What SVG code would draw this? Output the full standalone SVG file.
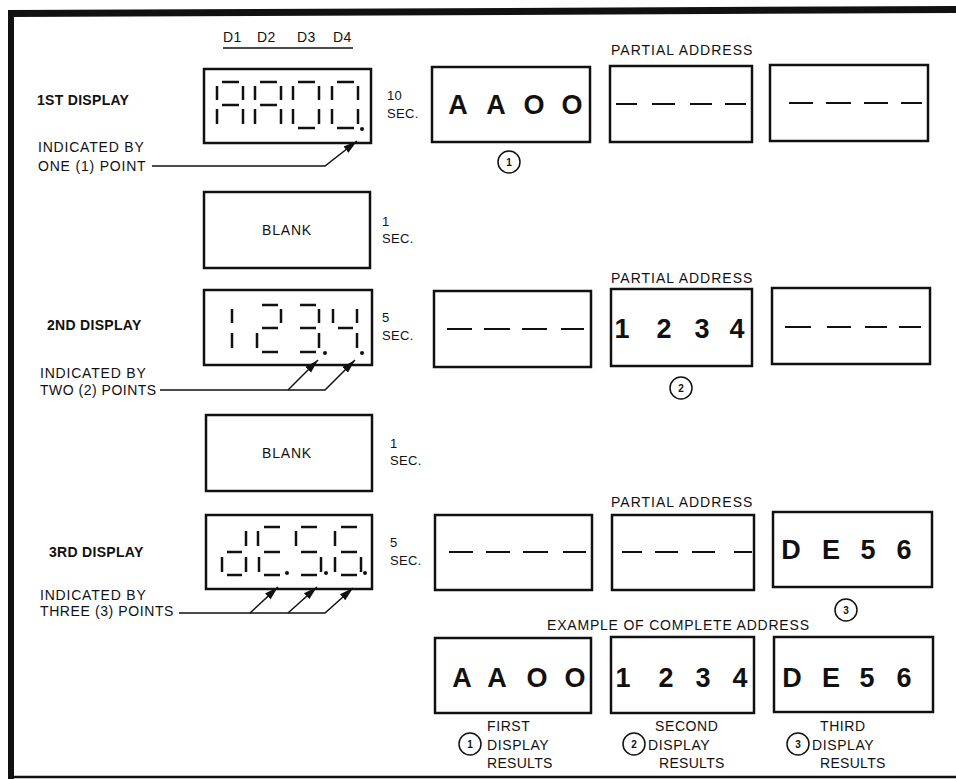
<svg xmlns="http://www.w3.org/2000/svg" width="956" height="779" viewBox="0 0 956 779">
<defs>
<style>
text{font-family:"Liberation Sans",Arial,sans-serif;fill:#111}
.lbl{font-size:14px;letter-spacing:0.8px}
.bl{font-size:14px;font-weight:bold;letter-spacing:0.3px}
.sec{font-size:13px;letter-spacing:0.3px}
.big{font-size:27px;font-weight:bold;text-anchor:middle}
.cn{font-size:10px;font-weight:bold;text-anchor:middle}
.box{fill:#fff;stroke:#111;stroke-width:2.5}
.seg{fill:none;stroke:#111;stroke-width:2.5}
.dash{fill:none;stroke:#111;stroke-width:2}
.circ{fill:none;stroke:#111;stroke-width:1.5}
.con{fill:none;stroke:#111;stroke-width:1.5}
</style>
<marker id="ah" markerWidth="16" markerHeight="10" refX="14" refY="5" orient="auto" markerUnits="userSpaceOnUse">
<path d="M0,1 L14,5 L0,9 z" fill="#111"/>
</marker>
</defs>
<rect width="956" height="779" fill="#fff"/>
<g id="frame">
<polygon points="8,10 956,6 956,13 8,17" fill="#111"/>
<rect x="8" y="10" width="6" height="769" fill="#111"/>
<line x1="14" y1="777" x2="956" y2="777" stroke="#111" stroke-width="2.5"/>
</g>
<g id="digit-labels">
<text class="lbl" x="223" y="42" style="letter-spacing:0.3px">D1</text>
<text class="lbl" x="257" y="42" style="letter-spacing:0.3px">D2</text>
<text class="lbl" x="297" y="42" style="letter-spacing:0.3px">D3</text>
<text class="lbl" x="333" y="42" style="letter-spacing:0.3px">D4</text>
<line x1="223" y1="48" x2="353" y2="48" stroke="#111" stroke-width="1.5"/>
</g>
<g id="display1">
<text class="bl" x="37" y="105">1ST DISPLAY</text>
<rect class="box" x="204" y="69" width="167" height="74"/>
<path class="seg" d="M222 82H239M243 86V100M243 109V124M217 109V124M217 86V100M222 105H239
M260 82H277M281 86V100M281 109V124M255 109V124M255 86V100M260 105H277
M298 82H315M319 86V100M319 109V124M298 128H315M293 109V124M293 86V100
M337 82H354M358 86V100M358 109V124M337 128H354M332 109V124M332 86V100"/>
<circle cx="362" cy="129" r="2" fill="#111"/>
<text class="sec" x="387" y="100">10</text>
<text class="sec" x="387" y="118">SEC.</text>
<text class="lbl" x="38" y="152">INDICATED BY</text>
<text class="lbl" x="38" y="171">ONE (1) POINT</text>
</g>
<g id="blank1">
<rect class="box" x="204" y="192" width="166" height="76"/>
<text class="lbl" x="287" y="235" text-anchor="middle">BLANK</text>
<text class="sec" x="382" y="226">1</text>
<text class="sec" x="382" y="243">SEC.</text>
</g>
<g id="display2">
<text class="bl" x="47" y="330">2ND DISPLAY</text>
<rect class="box" x="204" y="290" width="168" height="75"/>
<path class="seg" d="M232 309V323M232 333V348
M262 305H278M281 309V323M262 328H278M257 333V348M262 352H278
M300 305H316M319 309V323M300 328H316M319 333V348M300 352H316
M333 309V323M357 309V323M338 328H353M357 333V348"/>
<circle cx="325" cy="353" r="2" fill="#111"/>
<circle cx="362" cy="353" r="2" fill="#111"/>
<text class="sec" x="382" y="322">5</text>
<text class="sec" x="382" y="340">SEC.</text>
<text class="lbl" x="40" y="378">INDICATED BY</text>
<text class="lbl" x="40" y="395" style="letter-spacing:0.5px">TWO (2) POINTS</text>
</g>
<g id="blank2">
<rect class="box" x="206" y="415" width="166" height="76"/>
<text class="lbl" x="287" y="458" text-anchor="middle">BLANK</text>
<text class="sec" x="390" y="448">1</text>
<text class="sec" x="390" y="465">SEC.</text>
</g>
<g id="display3">
<text class="bl" x="49" y="557">3RD DISPLAY</text>
<rect class="box" x="206" y="515" width="166" height="74"/>
<path class="seg" d="M246 531V546M227 552H242M246 557V572M222 557V572M227 575H242
M264 527H280M258 531V546M264 552H280M259 557V572M264 575H280
M301 527H317M296 531V546M301 552H317M321 557V572M301 575H317
M341 527H357M335 531V546M341 552H357M335 557V572M361 557V572M341 575H357"/>
<circle cx="287" cy="573" r="2" fill="#111"/>
<circle cx="326" cy="573" r="2" fill="#111"/>
<circle cx="365" cy="573" r="2" fill="#111"/>
<text class="sec" x="390" y="547">5</text>
<text class="sec" x="390" y="565">SEC.</text>
<text class="lbl" x="40" y="600">INDICATED BY</text>
<text class="lbl" x="40" y="616" style="letter-spacing:0.6px">THREE (3) POINTS</text>
</g>
<g id="connectors">
<polyline class="con" points="152,166 325,166 357,141" marker-end="url(#ah)"/>
<polyline class="con" points="160,390 325,390 355,360" marker-end="url(#ah)"/>
<line class="con" x1="288" y1="390" x2="318" y2="360" marker-end="url(#ah)"/>
<polyline class="con" points="179,613 325,613 353,588" marker-end="url(#ah)"/>
<line class="con" x1="250" y1="613" x2="278" y2="587" marker-end="url(#ah)"/>
<line class="con" x1="288" y1="613" x2="317" y2="587" marker-end="url(#ah)"/>
</g>
<g id="row1">
<text class="lbl" x="611" y="55" style="letter-spacing:1px">PARTIAL ADDRESS</text>
<rect class="box" x="432" y="67" width="158" height="75"/>
<text class="big" x="458" y="114">A</text>
<text class="big" x="496" y="114">A</text>
<text class="big" x="534" y="114">O</text>
<text class="big" x="572" y="114">O</text>
<circle class="circ" cx="509" cy="162" r="11"/>
<text class="cn" x="509" y="166">1</text>
<rect class="box" x="610" y="66" width="142" height="76"/>
<path class="dash" d="M616 104H637M652 104H675M690 104H712M725 104H746"/>
<rect class="box" x="770" y="65" width="158" height="76"/>
<path class="dash" d="M789 103H813M826 103H851M864 103H888M901 103H922"/>
</g>
<g id="row2">
<text class="lbl" x="611" y="283" style="letter-spacing:1px">PARTIAL ADDRESS</text>
<rect class="box" x="434" y="291" width="157" height="76"/>
<path class="dash" d="M447 329H472M484 329H510M522 329H547M561 329H584"/>
<rect class="box" x="611" y="289" width="141" height="77"/>
<text class="big" x="622" y="338">1</text>
<text class="big" x="664" y="338">2</text>
<text class="big" x="702" y="338">3</text>
<text class="big" x="737" y="338">4</text>
<circle class="circ" cx="681" cy="388" r="11"/>
<text class="cn" x="681" y="392">2</text>
<rect class="box" x="772" y="288" width="158" height="76"/>
<path class="dash" d="M785 327H811M827 327H851M865 327H887M899 327H921"/>
</g>
<g id="row3">
<text class="lbl" x="611" y="507" style="letter-spacing:1px">PARTIAL ADDRESS</text>
<rect class="box" x="435" y="515" width="157" height="75"/>
<path class="dash" d="M449 552H473M486 552H510M523 552H548M563 552H586"/>
<rect class="box" x="612" y="515" width="142" height="75"/>
<path class="dash" d="M622 552H642M655 552H678M692 552H715M734 552H752"/>
<rect class="box" x="773" y="512" width="159" height="75"/>
<text class="big" x="791" y="559">D</text>
<text class="big" x="831" y="559">E</text>
<text class="big" x="868" y="559">5</text>
<text class="big" x="904" y="559">6</text>
<circle class="circ" cx="846" cy="610" r="11"/>
<text class="cn" x="846" y="614">3</text>
</g>
<g id="complete">
<text class="lbl" x="547" y="630">EXAMPLE OF COMPLETE ADDRESS</text>
<rect class="box" x="435" y="638" width="156" height="75"/>
<text class="big" x="462" y="687">A</text>
<text class="big" x="497" y="687">A</text>
<text class="big" x="537" y="687">O</text>
<text class="big" x="575" y="687">O</text>
<rect class="box" x="611" y="637" width="143" height="76"/>
<text class="big" x="623" y="687">1</text>
<text class="big" x="666" y="687">2</text>
<text class="big" x="703" y="687">3</text>
<text class="big" x="740" y="687">4</text>
<rect class="box" x="774" y="637" width="159" height="75"/>
<text class="big" x="792" y="687">D</text>
<text class="big" x="831" y="687">E</text>
<text class="big" x="867" y="687">5</text>
<text class="big" x="904" y="687">6</text>
</g>
<g id="result1">
<circle class="circ" cx="470" cy="744" r="11"/>
<text class="cn" x="470" y="748">1</text>
<text class="lbl" x="487" y="731" style="letter-spacing:0.6px">FIRST</text>
<text class="lbl" x="487" y="750" style="letter-spacing:0.6px">DISPLAY</text>
<text class="lbl" x="487" y="768" style="letter-spacing:0.3px">RESULTS</text>
</g>
<g id="result2">
<circle class="circ" cx="634" cy="744" r="11"/>
<text class="cn" x="634" y="748">2</text>
<text class="lbl" x="655" y="731" style="letter-spacing:0.6px">SECOND</text>
<text class="lbl" x="648" y="750" style="letter-spacing:0.6px">DISPLAY</text>
<text class="lbl" x="659" y="768" style="letter-spacing:0.3px">RESULTS</text>
</g>
<g id="result3">
<circle class="circ" cx="798" cy="744" r="11"/>
<text class="cn" x="798" y="748">3</text>
<text class="lbl" x="820" y="731" style="letter-spacing:0.6px">THIRD</text>
<text class="lbl" x="812" y="750" style="letter-spacing:0.6px">DISPLAY</text>
<text class="lbl" x="820" y="768" style="letter-spacing:0.3px">RESULTS</text>
</g>
</svg>
